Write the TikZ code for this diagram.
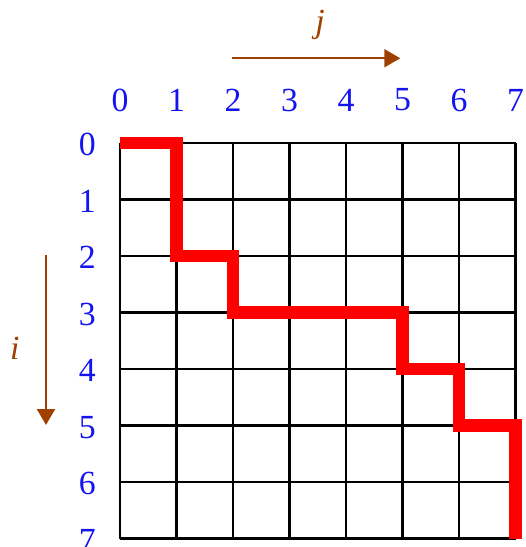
\documentclass[tikz,border=0pt]{standalone}
\usepackage{fontspec}
\setmainfont{Liberation Serif}
\usepackage{xcolor}
\usetikzlibrary{arrows.meta, positioning, calc}

\definecolor{idxblue}{RGB}{20,20,240}
\definecolor{dirbrown}{RGB}{160,64,0}

\begin{document}
\begin{tikzpicture}[
  x=1cm, y=1cm,
  num/.style={text=idxblue, font=\fontsize{17}{17}\selectfont, inner sep=0pt},
  dirlab/.style={text=dirbrown, font=\fontsize{17}{17}\selectfont\itshape, inner sep=0pt},
  dirarrow/.style={draw=dirbrown, line width=1.1pt, -{Triangle[length=8pt, width=9pt]}},
  gridline/.style={line width=1.1pt, black},
  pathline/.style={draw=red, line width=6.5pt}
]
\useasboundingbox (-2.124,2.531) rectangle (7.168,-7.150);

\draw[gridline] (0,0) grid (7,-7);

\foreach \k in {0,...,7} {
  \node[num] (col\k) at (\k,0.76) {\k};
  \node[num] (row\k) at (-0.58,-\k-0.03) {\k};
}

\coordinate (jtail) at (1.98,1.50);
\coordinate (jhead) at (4.96,1.50);
\node[dirlab] (jlab) at (3.54,2.09) {j};
\draw[dirarrow] (jtail) -- (jhead);

\coordinate (itail) at (-1.31,-1.98);
\coordinate (ihead) at (-1.31,-4.99);
\node[dirlab] (ilab) at (-1.86,-3.63) {i};
\draw[dirarrow] (itail) -- (ihead);

\draw[pathline] (0,0) -| (1,-2) -| (2,-3) -- (5,-3) |- (6,-4) |- (7,-5) -- (7,-7);
\end{tikzpicture}
\end{document}
